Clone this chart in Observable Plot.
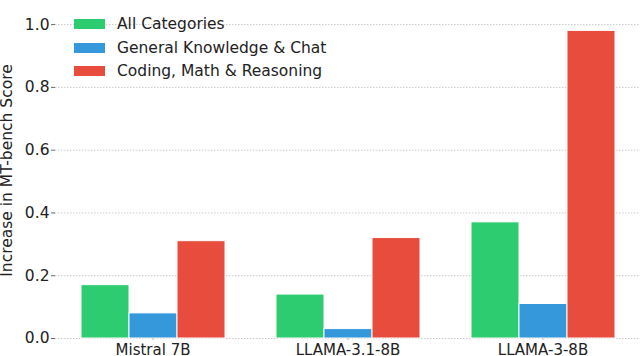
<!DOCTYPE html>
<html>
<head>
<meta charset="utf-8">
<script src="https://cdn.jsdelivr.net/npm/d3@7"></script>
<script src="https://cdn.jsdelivr.net/npm/@observablehq/plot@0.6"></script>
<style>
  html, body { margin: 0; padding: 0; background: #fff; }
  #wrap { position: relative; width: 640px; height: 356px; font-family: "DejaVu Sans", sans-serif; }
  #legend { position: absolute; left: 74px; top: 12.5px; }
  .row { display: flex; align-items: center; height: 23.5px; font-size: 15.5px; color: #222; }
  .sw { width: 31px; height: 10px; margin-right: 12px; }
</style>
</head>
<body>
<div id="wrap"></div>
<script>
const models = ["Mistral 7B", "LLAMA-3.1-8B", "LLAMA-3-8B"];
const categories = ["All Categories", "General Knowledge & Chat", "Coding, Math & Reasoning"];
const allCategories = [0.17, 0.14, 0.37];
const generalKnowledgeChat = [0.08, 0.03, 0.11];
const codingMathReasoning = [0.31, 0.32, 0.98];
const colors = ["#2ecc71", "#3498db", "#e74c3c"];
const yTicks = [0, 0.2, 0.4, 0.6, 0.8, 1.0];
const yLabel = "Increase in MT-bench Score";

const series = [allCategories, generalKnowledgeChat, codingMathReasoning];
const data = [];
models.forEach((m, i) => categories.forEach((c, j) => data.push({model: m, category: c, value: series[j][i]})));

const chart = Plot.plot({
  width: 640,
  height: 356,
  marginLeft: 54,
  marginRight: 0,
  marginTop: 15,
  marginBottom: 18,
  style: {fontFamily: "DejaVu Sans, sans-serif", color: "#222", background: "#fff"},
  fx: {domain: models, padding: 0, label: null},
  x: {domain: categories, paddingInner: 0, paddingOuter: 0.517, axis: null},
  y: {domain: [0, 1.029], label: null},
  color: {domain: categories, range: colors},
  marks: [
    Plot.ruleY(yTicks, {stroke: "#c8c8c8", strokeDasharray: "1.5,1.5", strokeWidth: 1}),
    Plot.barY(data, {fx: "model", x: "category", y: "value", fill: "category", stroke: "white", strokeWidth: 1}),
    Plot.axisY({ticks: yTicks, tickFormat: d3.format(".1f"), tickSize: 4, tickPadding: 2, fontSize: 15.5, label: null, stroke: "#666"}),
    Plot.axisFx({anchor: "bottom", label: null, tickSize: 2, tickPadding: 3.8, fontSize: 15, stroke: "#bbb"}),
    Plot.text([yLabel], {facet: "super", frameAnchor: "left", rotate: -90, textAnchor: "middle", lineAnchor: "middle", dx: -48.5, dy: -6.5, fontSize: 15.5, fill: "#222"})
  ]
});

const wrap = document.getElementById("wrap");
wrap.appendChild(chart);
const legend = document.createElement("div");
legend.id = "legend";
categories.forEach((c, i) => {
  const row = document.createElement("div");
  row.className = "row";
  const sw = document.createElement("div");
  sw.className = "sw";
  sw.style.background = colors[i];
  const t = document.createElement("span");
  t.textContent = c;
  row.appendChild(sw);
  row.appendChild(t);
  legend.appendChild(row);
});
wrap.appendChild(legend);
</script>
</body>
</html>
